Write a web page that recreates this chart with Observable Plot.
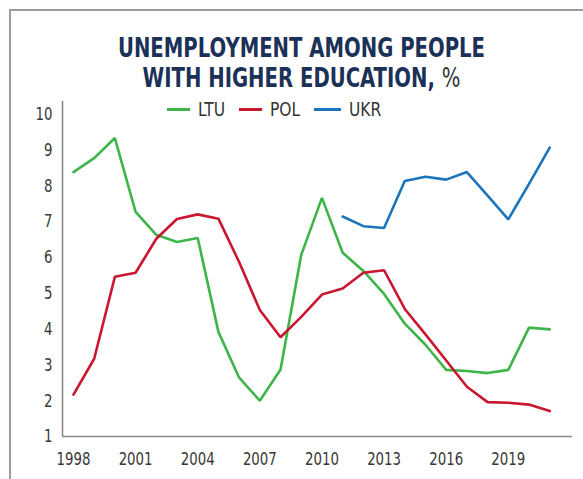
<!DOCTYPE html>
<html>
<head>
<meta charset="utf-8">
<script src="https://cdn.jsdelivr.net/npm/d3@7"></script>
<script src="https://cdn.jsdelivr.net/npm/@observablehq/plot@0.6"></script>
<style>
  html, body { margin: 0; padding: 0; background: #fff; }
  #wrap { position: relative; width: 583px; height: 479px; overflow: hidden; background: #fff; }
  #chart { position: absolute; left: 0; top: 0; }
  #frame { position: absolute; left: 9px; top: 9px; width: 700px; height: 600px;
           border-left: 2px solid #9c9c9c; border-top: 2px solid #9c9c9c; pointer-events: none; }
  #title { position: absolute; left: 0; width: 603px; top: 32.5px; text-align: center;
           font-family: "DejaVu Sans Condensed", "DejaVu Sans", sans-serif;
           font-weight: bold; font-size: 26px; line-height: 30.4px; color: #1b3157;
           transform: scaleX(0.84); transform-origin: 301.5px 0; white-space: nowrap; }
  #title .pct { font-weight: normal; color: #333; }
  #legend { position: absolute; top: 97px; left: 167px; display: flex; align-items: center;
            font-family: "DejaVu Sans Condensed", "DejaVu Sans", sans-serif; font-size: 20px; color: #333; }
  #legend .sw { height: 3px; margin-right: 8px; }
  #legend .lb { display: inline-block; margin-right: 14px; white-space: nowrap; }
  #legend .lb span { display: inline-block; transform: scaleX(0.86); transform-origin: 0 0; }
</style>
</head>
<body>
<div id="wrap">
  <div id="chart"></div>
  <div id="frame"></div>
  <div id="title">UNEMPLOYMENT AMONG PEOPLE<br>WITH HIGHER EDUCATION, <span class="pct">%</span></div>
  <div id="legend"></div>
</div>
<script>
const years = [1998,1999,2000,2001,2002,2003,2004,2005,2006,2007,2008,2009,2010,2011,2012,2013,2014,2015,2016,2017,2018,2019,2020,2021];
const ltu = [8.38,8.77,9.33,7.27,6.63,6.43,6.54,3.92,2.64,2.00,2.87,6.07,7.66,6.13,5.62,4.98,4.15,3.56,2.86,2.83,2.77,2.86,4.04,3.99];
const pol = [2.17,3.17,5.46,5.57,6.52,7.07,7.20,7.08,5.87,4.53,3.77,4.34,4.96,5.13,5.57,5.64,4.56,3.85,3.12,2.39,1.96,1.94,1.89,1.71];
const ukrYears = [2011,2012,2013,2014,2015,2016,2017,2018,2019,2020,2021];
const ukr = [7.14,6.87,6.82,8.13,8.25,8.17,8.38,7.72,7.06,8.05,9.06];
const series = ["LTU","POL","UKR"];
const colors = ["#3db54a","#c8172f","#1b75bc"];
const xTicks = [1998,2001,2004,2007,2010,2013,2016,2019];
const yTicks = [1,2,3,4,5,6,7,8,9,10];

const rows = [
  ...years.map((y,i)=>({year:y, value:ltu[i], country:"LTU"})),
  ...years.map((y,i)=>({year:y, value:pol[i], country:"POL"})),
  ...ukrYears.map((y,i)=>({year:y, value:ukr[i], country:"UKR"}))
];

const xMin = 1997.47, xMax = 2022.1, yMin = 1, yMax = 10.35;
const font = '"DejaVu Sans Condensed", "DejaVu Sans", sans-serif';

const chart = Plot.plot({
  width: 583, height: 479,
  marginTop: 101, marginBottom: 43, marginLeft: 62, marginRight: 11,
  style: {fontFamily: font, fontSize: "18.5px", color: "#383838", background: "transparent"},
  x: {domain: [xMin, xMax]},
  y: {domain: [yMin, yMax]},
  color: {domain: series, range: colors},
  marks: [
    Plot.axisX({ticks: xTicks, tickFormat: d => String(d), tickSize: 0, tickPadding: 15, label: null, fontSize: 18.5}),
    Plot.axisY({ticks: yTicks, tickSize: 0, tickPadding: 10, label: null, fontSize: 18.5}),
    Plot.ruleX([xMin], {stroke: "#8a8a8a", strokeWidth: 1.6}),
    Plot.ruleY([yMin], {stroke: "#8a8a8a", strokeWidth: 1.6}),
    Plot.line(rows, {x: "year", y: "value", z: "country", stroke: "country", strokeWidth: 2.6, strokeLinejoin: "miter"})
  ]
});
document.getElementById("chart").appendChild(chart);

// narrow the tick labels horizontally (the reference uses a condensed face),
// keeping each label's anchor point fixed
try {
  const NS = "http://www.w3.org/2000/svg";
  const narrow = (sel, anchorFn) => {
    chart.querySelectorAll(sel).forEach(el => {
      const parent = el.parentNode;
      const r = el.getBoundingClientRect();
      const ctm = parent.getScreenCTM();
      if (!ctm) return;
      const p = chart.createSVGPoint();
      p.x = anchorFn(r); p.y = r.top;
      const q = p.matrixTransform(ctm.inverse());
      const g = document.createElementNS(NS, "g");
      g.setAttribute("transform", `translate(${q.x},0) scale(0.8,1) translate(${-q.x},0)`);
      parent.insertBefore(g, el);
      g.appendChild(el);
    });
  };
  narrow('g[aria-label="x-axis tick label"] text', r => (r.left + r.right) / 2);
  narrow('g[aria-label="y-axis tick label"] text', r => r.right);
} catch (e) { console.log(e); }

const swatchWidths = [23, 23, 27];
const legend = document.getElementById("legend");
series.forEach((s,i) => {
  const sw = document.createElement("span"); sw.className = "sw";
  sw.style.background = colors[i]; sw.style.width = swatchWidths[i] + "px";
  const lb = document.createElement("span"); lb.className = "lb";
  const inner = document.createElement("span"); inner.textContent = s;
  lb.appendChild(inner);
  legend.appendChild(sw); legend.appendChild(lb);
  lb.style.width = (inner.getBoundingClientRect().width) + "px";
});
</script>
</body>
</html>
